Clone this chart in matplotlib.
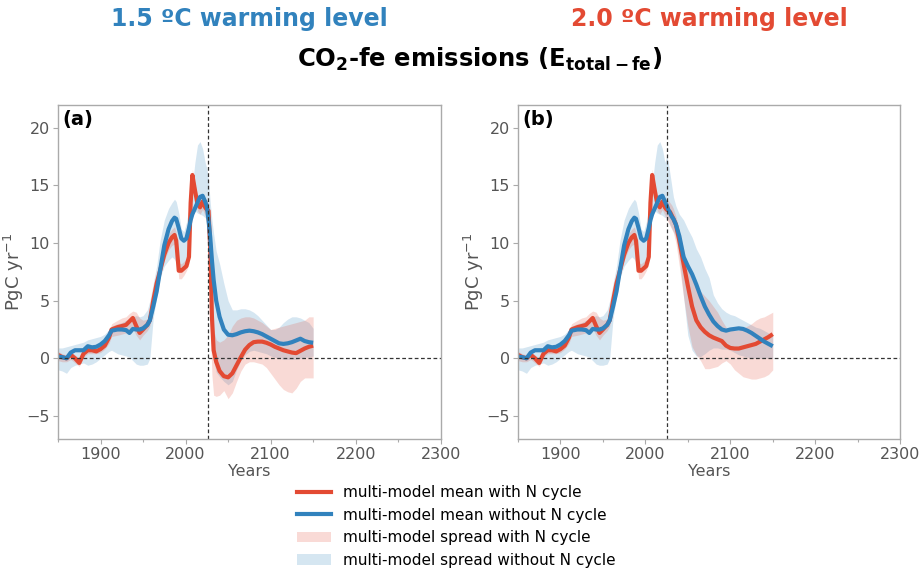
import numpy as np
import matplotlib
matplotlib.use("Agg")
import matplotlib.pyplot as plt
from matplotlib.lines import Line2D
from matplotlib.patches import Patch
from matplotlib.ticker import MultipleLocator

# ---------------- data ----------------
hist_years = [1850, 1855, 1860, 1865, 1870, 1875, 1880, 1885, 1890, 1895, 1900, 1905, 1910, 1913,
              1920, 1925, 1930, 1934, 1938, 1942, 1946, 1950, 1955, 1958, 1962, 1966, 1970, 1975,
              1980, 1984, 1987, 1989, 1992, 1995, 1998, 2001, 2004, 2006, 2008, 2011, 2014, 2017,
              2020, 2023]
hist_mean_n = [0.3, 0.1, 0.0, 0.3, 0.0, -0.4, 0.4, 0.7, 0.7, 0.6, 0.8, 1.1, 1.8, 2.5,
               2.7, 2.8, 2.9, 3.2, 3.5, 2.8, 2.2, 2.5, 2.9, 3.3, 5.0, 6.5, 7.6, 9.0,
               10.0, 10.5, 10.7, 10.2, 7.6, 7.6, 7.8, 8.0, 8.8, 13.5, 15.9, 14.6, 13.4, 13.1,
               13.6, 13.1]
hist_mean_non = [0.15, 0.1, 0.0, 0.5, 0.7, 0.7, 0.7, 1.05, 0.95, 1.0, 1.2, 1.5, 2.0, 2.4,
                 2.5, 2.5, 2.45, 2.2, 2.55, 2.5, 2.5, 2.6, 2.9, 3.3, 4.5, 5.8, 7.6, 9.8,
                 11.2, 11.9, 12.2, 12.1, 11.3, 10.4, 10.2, 10.4, 11.3, 12.0, 12.5, 13.0, 13.5, 14.0,
                 14.1, 13.6]
hist_lo_n = [-0.2, -0.3, -0.3, -0.1, -0.4, -0.7, 0.1, 0.4, 0.4, 0.4, 0.5, 0.8, 1.3, 1.9,
             2.0, 2.1, 2.2, 2.4, 2.6, 2.0, 1.6, 2.0, 2.4, 2.8, 4.4, 5.8, 7.0, 8.5,
             9.4, 9.8, 9.9, 9.5, 6.9, 6.9, 7.2, 7.6, 8.2, 12.8, 15.2, 14.0, 12.8, 12.5,
             12.9, 12.4]
hist_hi_n = [0.6, 0.4, 0.3, 0.6, 0.3, 0.0, 0.7, 1.0, 1.0, 0.9, 1.1, 1.5, 2.3, 3.0,
             3.3, 3.5, 3.6, 3.9, 4.1, 4.0, 3.5, 3.3, 3.4, 3.9, 5.6, 7.1, 8.4, 9.9,
             10.8, 11.2, 11.4, 10.9, 8.3, 8.2, 8.4, 8.6, 9.4, 14.2, 16.4, 15.2, 14.0, 13.7,
             14.2, 13.8]
hist_lo_non = [-1.0, -1.1, -1.3, -0.8, -0.6, -0.5, -0.4, -0.6, -0.5, -0.3, 0.0, 0.3, 0.6, 0.7,
               0.4, 0.3, 0.2, 0.1, -0.2, -0.5, -0.6, -0.6, -0.5, 0.0, 3.5, 5.3, 7.0, 8.0,
               8.5, 8.8, 8.6, 8.3, 7.8, 7.5, 7.8, 8.8, 11.0, 12.0, 12.8, 12.8, 12.6, 12.5,
               12.4, 12.2]
hist_hi_non = [0.9, 0.9, 1.0, 1.1, 1.2, 1.3, 1.4, 1.6, 1.7, 1.8, 1.9, 2.1, 2.5, 2.8,
               3.0, 3.1, 3.3, 3.4, 3.6, 3.7, 3.6, 3.7, 4.2, 5.0, 6.5, 8.0, 10.2, 12.0,
               13.0, 13.5, 13.8, 13.6, 12.6, 11.2, 11.0, 11.8, 13.0, 14.0, 15.0, 17.0, 18.5, 18.8,
               18.2, 17.0]

fut_years = [2025, 2027, 2029, 2031, 2033, 2036, 2040, 2045, 2050, 2055, 2060, 2065, 2070, 2075,
             2080, 2085, 2090, 2095, 2100, 2105, 2110, 2115, 2120, 2125, 2130, 2135, 2140, 2145, 2150]

# panel (a): 1.5 C warming level
a_mean_n = [12.9, 12.8, 9.5, 3.6, 0.7, -0.3, -1.1, -1.55, -1.65, -1.3, -0.6, 0.1, 0.75, 1.15,
            1.4, 1.45, 1.45, 1.35, 1.2, 1.0, 0.85, 0.7, 0.6, 0.5, 0.45, 0.65, 0.85, 1.0, 1.1]
a_mean_non = [13.2, 12.0, 10.5, 8.5, 6.8, 5.0, 3.6, 2.5, 2.05, 2.0, 2.1, 2.25, 2.35, 2.4,
              2.35, 2.25, 2.1, 1.9, 1.7, 1.5, 1.3, 1.25, 1.3, 1.4, 1.55, 1.7, 1.5, 1.4, 1.35]
a_lo_n = [11.5, 9.0, 3.0, -1.5, -3.2, -3.3, -3.2, -2.8, -3.5, -3.0, -2.0, -1.1, -0.5, -0.3,
          -0.3, -0.4, -0.5, -0.8, -1.3, -1.8, -2.3, -2.7, -2.9, -3.0, -2.6, -2.0, -1.7, -1.7, -1.7]
a_hi_n = [13.8, 13.5, 10.0, 5.0, 2.5, 1.6, 1.4, 1.6, 2.0, 2.8, 3.3, 3.5, 3.6, 3.6,
          3.5, 3.3, 3.1, 2.8, 2.5, 2.6, 2.7, 2.8, 2.9, 3.0, 3.1, 3.2, 3.3, 3.6, 3.6]
a_lo_non = [12.0, 9.0, 5.5, 2.0, -0.2, -1.2, -1.6, -2.0, -2.3, -2.0, -1.0, -0.2, 0.3, 0.6,
            0.7, 0.6, 0.5, 0.4, 0.2, 0.1, 0.0, -0.1, -0.1, -0.1, -0.1, 0.0, 0.1, 0.1, 0.2]
a_hi_non = [16.5, 15.5, 13.5, 12.0, 10.8, 9.3, 8.2, 6.5, 5.0, 4.2, 4.2, 4.3, 4.3, 4.2,
            4.0, 3.7, 3.3, 2.9, 2.5, 2.5, 2.7, 3.1, 3.4, 3.6, 3.6, 3.5, 3.3, 3.1, 2.6]

# panel (b): 2.0 C warming level
b_mean_n = [12.9, 12.8, 12.7, 12.4, 12.1, 11.6, 10.2, 8.2, 6.3, 4.5, 3.3, 2.7, 2.3, 2.0,
            1.8, 1.65, 1.5, 1.1, 0.9, 0.85, 0.85, 0.95, 1.05, 1.15, 1.25, 1.45, 1.65, 1.85, 2.1]
b_mean_non = [13.3, 12.9, 12.6, 12.3, 12.1, 11.6, 10.6, 8.8, 8.0, 7.3, 6.4, 5.4, 4.5, 3.8,
              3.2, 2.8, 2.5, 2.4, 2.5, 2.55, 2.6, 2.55, 2.4, 2.2, 1.95, 1.7, 1.45, 1.25, 1.05]
b_lo_n = [12.0, 11.8, 11.5, 11.2, 10.9, 10.0, 8.0, 5.3, 2.8, 1.0, 0.3, -0.2, -0.9, -0.9,
          -0.8, -0.7, -0.4, -0.2, -0.5, -1.0, -1.3, -1.6, -1.7, -1.8, -1.8, -1.7, -1.6, -1.4, -1.0]
b_hi_n = [13.8, 13.7, 13.5, 13.3, 13.0, 12.3, 11.0, 9.5, 7.8, 6.8, 6.2, 5.8, 5.4, 5.0,
          4.5, 4.0, 3.3, 2.7, 2.45, 2.4, 2.45, 2.6, 2.8, 3.0, 3.3, 3.5, 3.6, 3.8, 4.0]
b_lo_non = [12.3, 12.0, 11.6, 11.3, 11.0, 10.5, 8.7, 5.3, 2.0, 0.7, 0.2, 0.15, 0.4, 0.7,
            0.9, 0.9, 0.8, 0.8, 0.7, 0.5, 0.3, 0.2, 0.1, 0.0, 0.0, 0.0, 0.0, 0.0, 0.0]
b_hi_non = [17.5, 17.0, 16.0, 15.0, 14.0, 13.2, 12.5, 12.0, 11.2, 10.5, 9.5, 8.8, 7.8, 7.0,
            5.5, 4.8, 4.3, 4.0, 3.8, 3.7, 3.5, 3.3, 3.1, 2.9, 2.7, 2.6, 2.4, 2.2, 1.9]

warming_year = 2026
panel_titles = ["1.5 \u00baC warming level", "2.0 \u00baC warming level"]
panel_labels = ["(a)", "(b)"]

# ---------------- style ----------------
RED = "#e34a33"
BLUE = "#3182bd"
GREY_TXT = "#555555"
GREY_SPINE = "#aaaaaa"

fig = plt.figure(figsize=(9.22, 5.70), dpi=100)
ax_a = fig.add_axes([0.0629, 0.2298, 0.4151, 0.5865])
ax_b = fig.add_axes([0.5618, 0.2298, 0.4145, 0.5865])

panels = [
    (ax_a, a_mean_n, a_mean_non, a_lo_n, a_hi_n, a_lo_non, a_hi_non, BLUE),
    (ax_b, b_mean_n, b_mean_non, b_lo_n, b_hi_n, b_lo_non, b_hi_non, RED),
]

for i, (ax, mn, mnon, lon, hin, lonon, hinon, tcol) in enumerate(panels):
    yrs = np.array(hist_years + fut_years)
    mean_n = np.array(hist_mean_n + mn)
    mean_non = np.array(hist_mean_non + mnon)
    lo_n = np.array(hist_lo_n + lon)
    hi_n = np.array(hist_hi_n + hin)
    lo_non = np.array(hist_lo_non + lonon)
    hi_non = np.array(hist_hi_non + hinon)

    ax.fill_between(yrs, lo_non, hi_non, color=BLUE, alpha=0.2, linewidth=0)
    ax.fill_between(yrs, lo_n, hi_n, color=RED, alpha=0.2, linewidth=0)
    ax.plot(yrs, mean_n, color=RED, lw=3, solid_capstyle="butt")
    ax.plot(yrs, mean_non, color=BLUE, lw=3, solid_capstyle="butt")

    ax.axhline(0, color="#333333", lw=0.9, ls=(0, (3, 2)))
    ax.axvline(warming_year, color="#333333", lw=0.9, ls=(0, (3, 2)))

    ax.set_xlim(1850, 2300)
    ax.set_ylim(-7, 22)
    ax.xaxis.set_major_locator(MultipleLocator(100))
    ax.xaxis.set_minor_locator(MultipleLocator(50))
    ax.yaxis.set_major_locator(MultipleLocator(5))
    ax.tick_params(axis="both", which="major", labelsize=11.5, colors=GREY_SPINE,
                   labelcolor=GREY_TXT, length=3.5, width=0.8, pad=2.5)
    ax.tick_params(axis="x", which="minor", colors=GREY_SPINE, length=2, width=0.8)
    for s in ax.spines.values():
        s.set_color(GREY_SPINE)
        s.set_linewidth(1.0)
    ax.set_xlabel("Years", fontsize=11.5, color=GREY_TXT, labelpad=1.5)
    ax.set_ylabel("PgC yr$^{-1}$", fontsize=13, color=GREY_TXT, labelpad=0)
    ax.text(0.012, 0.985, panel_labels[i], transform=ax.transAxes, fontsize=14,
            fontweight="bold", va="top", ha="left", color="black")
    cx = (ax.get_position().x0 + ax.get_position().x1) / 2
    fig.text(cx, 0.966, panel_titles[i], color=tcol, fontsize=17, fontweight="bold",
             ha="center", va="center")

fig.text(0.52, 0.895, r"CO$_\mathbf{2}$-fe emissions (E$_{\mathbf{total-fe}}$)",
         fontsize=17.5, fontweight="bold", ha="center", va="center", color="black")

handles = [
    Line2D([], [], color=RED, lw=3),
    Line2D([], [], color=BLUE, lw=3),
    Patch(facecolor=RED, alpha=0.2, edgecolor="none"),
    Patch(facecolor=BLUE, alpha=0.2, edgecolor="none"),
]
labels = ["multi-model mean with N cycle", "multi-model mean without N cycle",
          "multi-model spread with N cycle", "multi-model spread without N cycle"]
fig.legend(handles, labels, loc="upper center", bbox_to_anchor=(0.495, 0.168),
           frameon=False, fontsize=11, handlelength=2.2, labelspacing=0.5,
           borderpad=0.2, handletextpad=0.8)

fig.savefig("out.png", dpi=100)
